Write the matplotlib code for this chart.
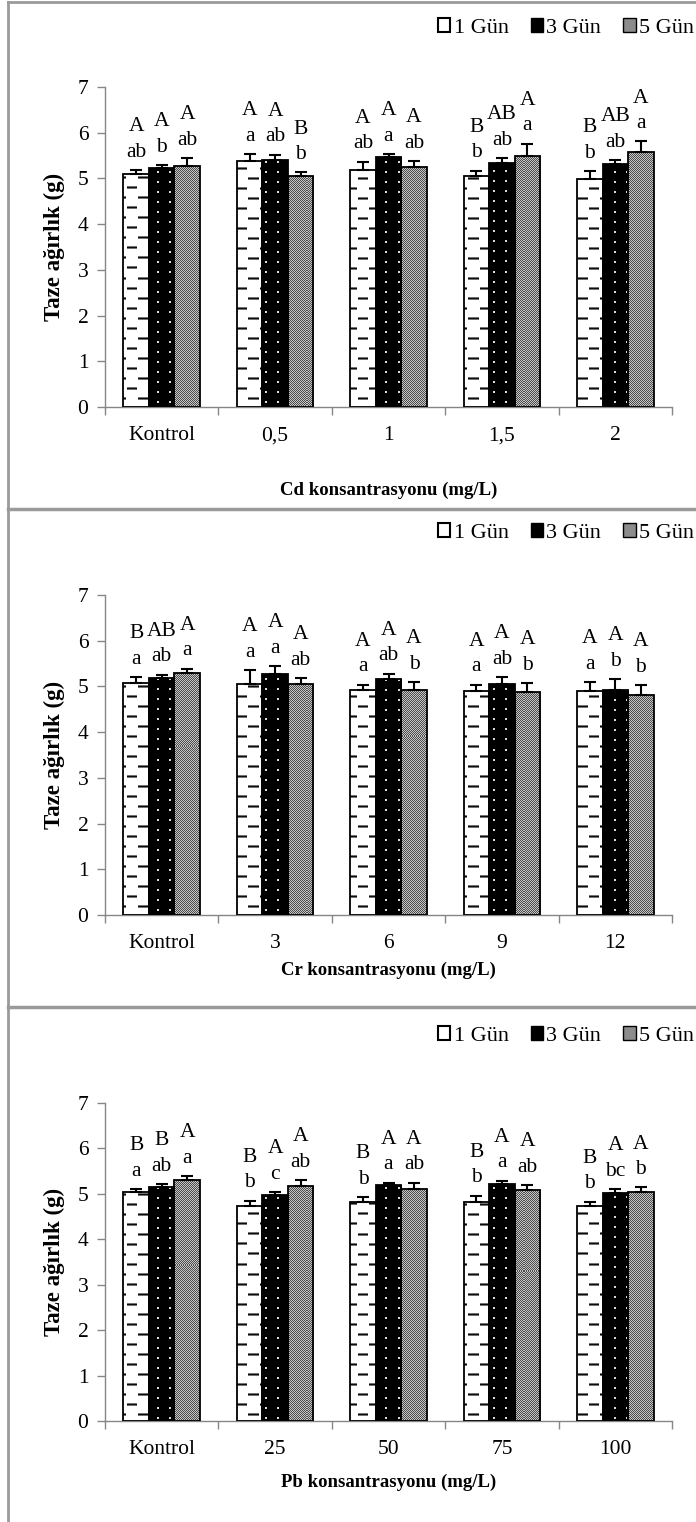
import numpy as np
import matplotlib
matplotlib.use("Agg")
import matplotlib.pyplot as plt
from matplotlib.patches import Patch
from matplotlib.lines import Line2D

plt.rcParams["font.family"] = ["Liberation Serif", "DejaVu Serif"]

# ---- data -------------------------------------------------------------
series_labels = ["1 Gün", "3 Gün", "5 Gün"]

cd_doses = ["Kontrol", "0,5", "1", "1,5", "2"]
cd_day1 = [5.10, 5.38, 5.18, 5.05, 4.98]
cd_day3 = [5.22, 5.40, 5.46, 5.34, 5.31]
cd_day5 = [5.27, 5.05, 5.24, 5.49, 5.57]
cd_err1 = [0.09, 0.16, 0.19, 0.12, 0.18]
cd_err3 = [0.08, 0.12, 0.07, 0.11, 0.09]
cd_err5 = [0.17, 0.08, 0.14, 0.27, 0.24]
cd_upper = [["A", "A", "A", "B", "B"], ["A", "A", "A", "AB", "AB"], ["A", "B", "A", "A", "A"]]
cd_lower = [["ab", "a", "ab", "b", "b"], ["b", "ab", "a", "ab", "ab"], ["ab", "b", "ab", "a", "a"]]

cr_doses = ["Kontrol", "3", "6", "9", "12"]
cr_day1 = [5.07, 5.05, 4.92, 4.89, 4.89]
cr_day3 = [5.19, 5.28, 5.16, 5.06, 4.92]
cr_day5 = [5.30, 5.05, 4.93, 4.87, 4.81]
cr_err1 = [0.13, 0.31, 0.12, 0.15, 0.21]
cr_err3 = [0.07, 0.17, 0.12, 0.15, 0.24]
cr_err5 = [0.09, 0.14, 0.17, 0.20, 0.22]
cr_upper = [["B", "A", "A", "A", "A"], ["AB", "A", "A", "A", "A"], ["A", "A", "A", "A", "A"]]
cr_lower = [["a", "a", "a", "a", "a"], ["ab", "a", "ab", "ab", "b"], ["a", "ab", "b", "b", "b"]]

pb_doses = ["Kontrol", "25", "50", "75", "100"]
pb_day1 = [5.04, 4.74, 4.83, 4.82, 4.74]
pb_day3 = [5.15, 4.97, 5.19, 5.21, 5.02]
pb_day5 = [5.31, 5.17, 5.10, 5.09, 5.03]
pb_err1 = [0.07, 0.11, 0.10, 0.14, 0.09]
pb_err3 = [0.06, 0.07, 0.06, 0.08, 0.09]
pb_err5 = [0.08, 0.13, 0.15, 0.11, 0.11]
pb_upper = [["B", "B", "B", "B", "B"], ["B", "A", "A", "A", "A"], ["A", "A", "A", "A", "A"]]
pb_lower = [["a", "b", "b", "b", "b"], ["ab", "c", "a", "a", "bc"], ["a", "ab", "ab", "ab", "b"]]

y_ticks = [0, 1, 2, 3, 4, 5, 6, 7]

# ---- figure -----------------------------------------------------------
W, H, DPI = 696, 1522, 100
fig = plt.figure(figsize=(W / DPI, H / DPI), dpi=DPI)
AXIS_GRAY = "#868686"
FS = 15.5


def texture(kind, h, w):
    """Pixel fill patterns: dashed horizontal, dotted black, fine check."""
    r, c = np.mgrid[0:h, 0:w]
    if kind == 0:
        img = np.ones((h, w))
        rr = r % 10
        shift = 11 * ((r // 10) % 2)
        on = ((c + shift) % 22) < 10
        img[(rr == 1) & on] = 0.05
        img[((rr == 0) | (rr == 2)) & on] = 0.45
    elif kind == 1:
        img = np.zeros((h, w))
        dot = ((r % 10) // 2 == 2) & ((c % 12) // 2 == 2)
        img[dot] = 0.85
    else:
        img = np.where((r + c) % 2 == 0, 0.3, 0.78)
    return np.dstack([img] * 3)


def legend_handles():
    return [
        Patch(facecolor="white", edgecolor="black", linewidth=1.5),
        Patch(facecolor="black", edgecolor="black", linewidth=1.0),
        Patch(facecolor="#8c8c8c", edgecolor="black", linewidth=1.0),
    ]


def draw_panel(box, cats, means, errs, upper, lower, xlabel, xlabel_y, legend_y):
    left, top, right, bottom = box
    ax = fig.add_axes([left / W, 1 - bottom / H, (right - left) / W, (bottom - top) / H])
    x = np.arange(len(cats))
    width = 0.225
    offsets = [-width, 0.0, width]
    for k in range(3):
        xs = x + offsets[k]
        bars = ax.bar(xs, means[k], width, facecolor="none", edgecolor="black",
                      linewidth=1.3, zorder=3)
        tex = texture(k, bottom - top, right - left)
        for b in bars:
            im = ax.imshow(tex, extent=(-0.5, 4.5, 0, 7), aspect="auto",
                           interpolation="nearest", zorder=2)
            im.set_clip_path(b)
        ax.errorbar(xs, means[k], yerr=[np.zeros(len(cats)), errs[k]], fmt="none",
                    ecolor="black", elinewidth=1.5, capsize=4, capthick=1.5, zorder=4)
        for xi, m, e, u, lo in zip(xs, means[k], errs[k], upper[k], lower[k]):
            ax.annotate(lo, (xi, m + e), xytext=(0, 9.5), textcoords="offset points",
                        ha="center", va="baseline", fontsize=FS)
            ax.annotate(u, (xi, m + e), xytext=(0, 28), textcoords="offset points",
                        ha="center", va="baseline", fontsize=FS)

    ax.set_xlim(-0.5, 4.5)
    ax.set_ylim(0, 7)
    ax.set_yticks(y_ticks)
    ax.set_xticks(x)
    ax.set_xticklabels(cats)
    ax.set_xticks(np.arange(-0.5, 5.0, 1.0), minor=True)
    ax.tick_params(axis="x", which="major", length=0, pad=14, labelsize=FS)
    ax.tick_params(axis="x", which="minor", length=6, color=AXIS_GRAY, width=1)
    ax.tick_params(axis="y", length=6, color=AXIS_GRAY, width=1, pad=6, labelsize=FS)
    for s in ("top", "right"):
        ax.spines[s].set_visible(False)
    for s in ("left", "bottom"):
        ax.spines[s].set_color(AXIS_GRAY)
        ax.spines[s].set_linewidth(1)

    fig.text(54 / W, 1 - (top + bottom) / 2 / H, "Taze ağırlık (g)", rotation=90,
             ha="center", va="center", fontweight="bold", fontsize=16.5)
    fig.text((left + right) / 2 / W, 1 - xlabel_y / H, xlabel, ha="center",
             va="center", fontweight="bold", fontsize=13.5)
    fig.legend(legend_handles(), series_labels, loc="center right",
               bbox_to_anchor=(694 / W, 1 - legend_y / H), bbox_transform=fig.transFigure,
               ncol=3, frameon=False, fontsize=16, handlelength=0.55, handleheight=0.55,
               handletextpad=0.15, columnspacing=1.0, borderaxespad=0, borderpad=0)
    return ax


draw_panel((105, 87, 672, 407), cd_doses,
           [cd_day1, cd_day3, cd_day5], [cd_err1, cd_err3, cd_err5],
           cd_upper, cd_lower, "Cd konsantrasyonu (mg/L)", 490, 28)
draw_panel((105, 595, 672, 915), cr_doses,
           [cr_day1, cr_day3, cr_day5], [cr_err1, cr_err3, cr_err5],
           cr_upper, cr_lower, "Cr konsantrasyonu (mg/L)", 970, 533)
draw_panel((105, 1103, 672, 1421), pb_doses,
           [pb_day1, pb_day3, pb_day5], [pb_err1, pb_err3, pb_err5],
           pb_upper, pb_lower, "Pb konsantrasyonu (mg/L)", 1482, 1036)

# panel frames
FRAME = "#9a9a9a"
fig.add_artist(Line2D([8 / W, 8 / W], [0, 1 - 2 / H], transform=fig.transFigure,
                      color=FRAME, lw=2))
fig.add_artist(Line2D([8 / W, 1], [1 - 2 / H, 1 - 2 / H], transform=fig.transFigure,
                      color=FRAME, lw=2))
for ysep in (509, 1007):
    fig.add_artist(Line2D([8 / W, 1], [1 - ysep / H, 1 - ysep / H],
                          transform=fig.transFigure, color=FRAME, lw=2.5))

fig.savefig("out.png", dpi=DPI)
